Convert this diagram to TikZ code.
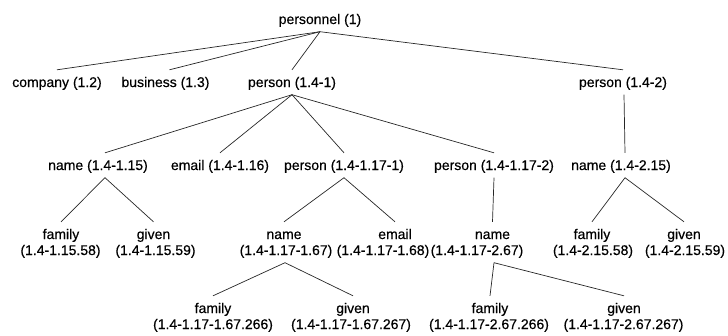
\documentclass[tikz,border=0pt]{standalone}
\usepackage{fontspec}
\setmainfont{Liberation Sans}[FakeBold=0.35]
\begin{document}
\begin{tikzpicture}[x=1pt,y=-1pt,
  el/.style={anchor=base,font=\fontsize{14}{16}\selectfont,inner xsep=1pt,inner ysep=4.5pt,text height=12.5pt,text depth=3pt},
  edge/.style={line width=0.7pt,draw=black!85}]
\useasboundingbox (0,0) rectangle (728,335);
% root and first level
\node[el] (pers) at (320,24) {personnel (1)};
\node[el] (comp) at (57,87) {company (1.2)}; \node[el] (bus) at (165.5,87) {business (1.3)};
\node[el] (p1) at (292,87) {person (1.4-1)}; \node[el] (p2) at (623,87) {person (1.4-2)};
% second level
\node[el] (n115) at (98,170) {name (1.4-1.15)}; \node[el] (e116) at (220,170) {email (1.4-1.16)};
\node[el] (p171) at (344,170) {person (1.4-1.17-1)}; \node[el] (p172) at (494,170) {person (1.4-1.17-2)};
\node[el] (n215) at (621,170) {name (1.4-2.15)};
% third level, word and id
\node[el] (f58) at (61,239) {family}; \node[el] (f58i) at (60.5,255) {(1.4-1.15.58)};
\node[el] (g59) at (153.5,239) {given}; \node[el] (g59i) at (155.5,255) {(1.4-1.15.59)};
\node[el] (n167) at (284,239) {name}; \node[el] (n167i) at (286,255) {(1.4-1.17-1.67)};
\node[el] (e168) at (395,239) {email}; \node[el] (e168i) at (383,255) {(1.4-1.17-1.68)};
\node[el] (n267) at (492.5,239) {name}; \node[el] (n267i) at (477,255) {(1.4-1.17-2.67)};
\node[el] (f2158) at (592,239) {family}; \node[el] (f2158i) at (593,255) {(1.4-2.15.58)};
\node[el] (g2159) at (684,239) {given}; \node[el] (g2159i) at (685,255) {(1.4-2.15.59)};
% fourth level
\node[el] (f266) at (213,313) {family}; \node[el] (f266i) at (213,329) {(1.4-1.17-1.67.266)};
\node[el] (g267) at (353,313) {given}; \node[el] (g267i) at (351,329) {(1.4-1.17-1.67.267)};
\node[el] (f2266) at (490,313) {family}; \node[el] (f2266i) at (489,329) {(1.4-1.17-2.67.266)};
\node[el] (g2267) at (624,313) {given}; \node[el] (g2267i) at (623.5,329) {(1.4-1.17-2.67.267)};
% connectors
\draw[edge] (pers.south) -- (comp.north); \draw[edge] (pers.south) -- ([xshift=4pt]bus.north);
\draw[edge] (pers.south) -- (p1.north); \draw[edge] (pers.south) -- (p2.north);
\draw[edge] (p1.south) -- ([xshift=7pt]n115.north); \draw[edge] (p1.south) -- (e116.north);
\draw[edge] (p1.south) -- (p171.north); \draw[edge] (p1.south) -- (p172.north);
\draw[edge] ([xshift=1pt]p2.south) -- ([xshift=4pt]n215.north);
\draw[edge] ([xshift=7pt]n115.south) -- (f58.north); \draw[edge] ([xshift=7pt]n115.south) -- (g59.north);
\draw[edge] (p171.south) -- (n167.north); \draw[edge] (p171.south) -- (e168.north);
\draw[edge] (p172.south) -- (n267.north);
\draw[edge] ([xshift=4pt]n215.south) -- (f2158.north); \draw[edge] ([xshift=4pt]n215.south) -- (g2159.north);
\draw[edge] ([xshift=-1pt]n167i.south) -- (f266.north); \draw[edge] ([xshift=-1pt]n167i.south) -- (g267.north);
\draw[edge] ([xshift=17pt]n267i.south) -- (f2266.north); \draw[edge] ([xshift=17pt]n267i.south) -- (g2267.north);
\end{tikzpicture}
\end{document}
